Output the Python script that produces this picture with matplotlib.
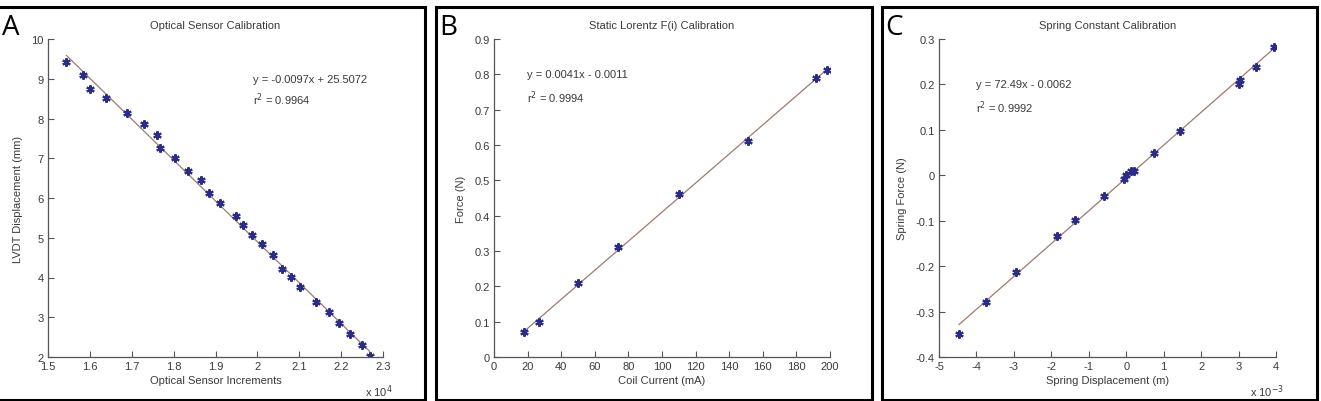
import numpy as np
import matplotlib.pyplot as plt
from matplotlib.patches import Rectangle

plt.rcParams['font.family'] = ['Liberation Sans', 'DejaVu Sans']
plt.rcParams['axes.unicode_minus'] = False

# Panel A: optical sensor (x in units of 1e4 increments) vs LVDT displacement (mm)
opt_x = [1.544, 1.584, 1.600, 1.639, 1.689, 1.729, 1.761, 1.767, 1.803, 1.835,
         1.865, 1.884, 1.910, 1.948, 1.966, 1.988, 2.010, 2.037, 2.060, 2.081,
         2.101, 2.141, 2.170, 2.195, 2.222, 2.250, 2.268]
opt_y = [9.41, 9.09, 8.74, 8.51, 8.15, 7.85, 7.58, 7.27, 7.01, 6.67,
         6.45, 6.12, 5.87, 5.54, 5.32, 5.08, 4.84, 4.57, 4.22, 4.02,
         3.77, 3.38, 3.12, 2.85, 2.57, 2.31, 2.02]

# Panel B: coil current (mA) vs force (N)
coil_x = [18.1, 26.8, 49.8, 74.0, 110.3, 151.2, 191.7, 198.4]
coil_y = [0.071, 0.099, 0.210, 0.310, 0.460, 0.612, 0.791, 0.811]

# Panel C: spring displacement (x 1e-3 m) vs spring force (N)
spr_x = [-4.465, -3.743, -2.941, -1.854, -1.364, -0.606, -0.071, -0.009,
         0.125, 0.196, 0.749, 1.444, 3.021, 3.040, 3.476, 3.957]
spr_y = [-0.349, -0.278, -0.213, -0.133, -0.098, -0.045, -0.008, 0.001,
         0.009, 0.010, 0.048, 0.098, 0.202, 0.210, 0.238, 0.283]

fig = plt.figure(figsize=(13.21, 4.02), dpi=100)

txt = '#3a3a3a'
mk = '#2b2b8c'
fitc = '#9c7b6e'

# panel frames (pixels: left, right)
frames = [(-3, 425), (436, 872), (882, 1317)]
for (l, r), lab in zip(frames, 'ABC'):
    fig.patches.append(Rectangle((l / 1321, 1.5 / 402), (r - l) / 1321, (402 - 8 - 1.5) / 402,
                                 transform=fig.transFigure, fill=False,
                                 edgecolor='black', linewidth=2.2))
    fig.text((l + 3) / 1321 if l > 0 else 2 / 1321, 1 - 14 / 402, lab, fontsize=20,
             ha='left', va='top', family=['Open Sans', 'DejaVu Sans'])

def make_axes(left_px, right_px):
    ax = fig.add_axes([left_px / 1321, 44 / 402, (right_px - left_px) / 1321, 318 / 402])
    for s in ['top', 'right']:
        ax.spines[s].set_visible(False)
    for s in ['left', 'bottom']:
        ax.spines[s].set_color('#555555')
        ax.spines[s].set_linewidth(0.9)
    ax.tick_params(direction='in', length=4, width=0.8, colors='#555555',
                   labelcolor=txt, labelsize=8, pad=3)
    return ax

def draw(ax, x, y):
    x = np.array(x)
    y = np.array(y)
    k, b = np.polyfit(x, y, 1)
    xs = np.array([x.min(), x.max()])
    ax.plot(xs, k * xs + b, color=fitc, lw=0.9, zorder=1)
    ax.plot(x, y, linestyle='none', marker=(6, 2, 0), markersize=6,
            markeredgewidth=1.5, color=mk, zorder=2)

# A
axA = make_axes(48, 383)
draw(axA, opt_x, opt_y)
axA.set_xlim(1.5, 2.3)
axA.set_ylim(2, 10)
axA.set_xticks(np.arange(1.5, 2.31, 0.1))
axA.set_xticklabels(['1.5', '1.6', '1.7', '1.8', '1.9', '2', '2.1', '2.2', '2.3'])
axA.set_yticks(range(2, 11))
axA.set_title('Optical Sensor Calibration', fontsize=8, color=txt, pad=8)
axA.set_xlabel('Optical Sensor Increments', fontsize=8, color=txt, labelpad=3)
axA.set_ylabel('LVDT Displacement (mm)', fontsize=8, color=txt, labelpad=6)
axA.text(1.99, 8.99, 'y = -0.0097x + 25.5072', fontsize=8, color=txt, va='center')
axA.text(1.99, 8.49, 'r$^2$ = 0.9964', fontsize=8, color=txt, va='center')
fig.text(365 / 1321, 1 - 392 / 402, r'x 10$^4$', fontsize=8, color=txt, va='center')

# B
axB = make_axes(494, 830)
draw(axB, coil_x, coil_y)
axB.set_xlim(0, 200)
axB.set_ylim(0, 0.9)
axB.set_xticks(range(0, 201, 20))
axB.set_yticks(np.arange(0, 0.91, 0.1))
axB.set_yticklabels(['0', '0.1', '0.2', '0.3', '0.4', '0.5', '0.6', '0.7', '0.8', '0.9'])
axB.set_title('Static Lorentz F(i) Calibration', fontsize=8, color=txt, pad=8)
axB.set_xlabel('Coil Current (mA)', fontsize=8, color=txt, labelpad=3)
axB.set_ylabel('Force (N)', fontsize=8, color=txt, labelpad=6)
axB.text(19.8, 0.80, 'y = 0.0041x - 0.0011', fontsize=8, color=txt, va='center')
axB.text(19.8, 0.738, 'r$^2$ = 0.9994', fontsize=8, color=txt, va='center')

# C
axC = make_axes(939, 1276)
draw(axC, spr_x, spr_y)
axC.set_xlim(-5, 4)
axC.set_ylim(-0.4, 0.3)
axC.set_xticks(range(-5, 5))
axC.set_yticks(np.arange(-0.4, 0.31, 0.1))
axC.set_yticklabels(['-0.4', '-0.3', '-0.2', '-0.1', '0', '0.1', '0.2', '0.3'])
axC.set_title('Spring Constant Calibration', fontsize=8, color=txt, pad=8)
axC.set_xlabel('Spring Displacement (m)', fontsize=8, color=txt, labelpad=3)
axC.set_ylabel('Spring Force (N)', fontsize=8, color=txt, labelpad=6)
axC.text(-4.0, 0.201, 'y = 72.49x - 0.0062', fontsize=8, color=txt, va='center')
axC.text(-4.0, 0.15, 'r$^2$ = 0.9992', fontsize=8, color=txt, va='center')
fig.text(1250 / 1321, 1 - 392 / 402, r'x 10$^{-3}$', fontsize=8, color=txt, va='center')

fig.savefig('out.png', dpi=100)
